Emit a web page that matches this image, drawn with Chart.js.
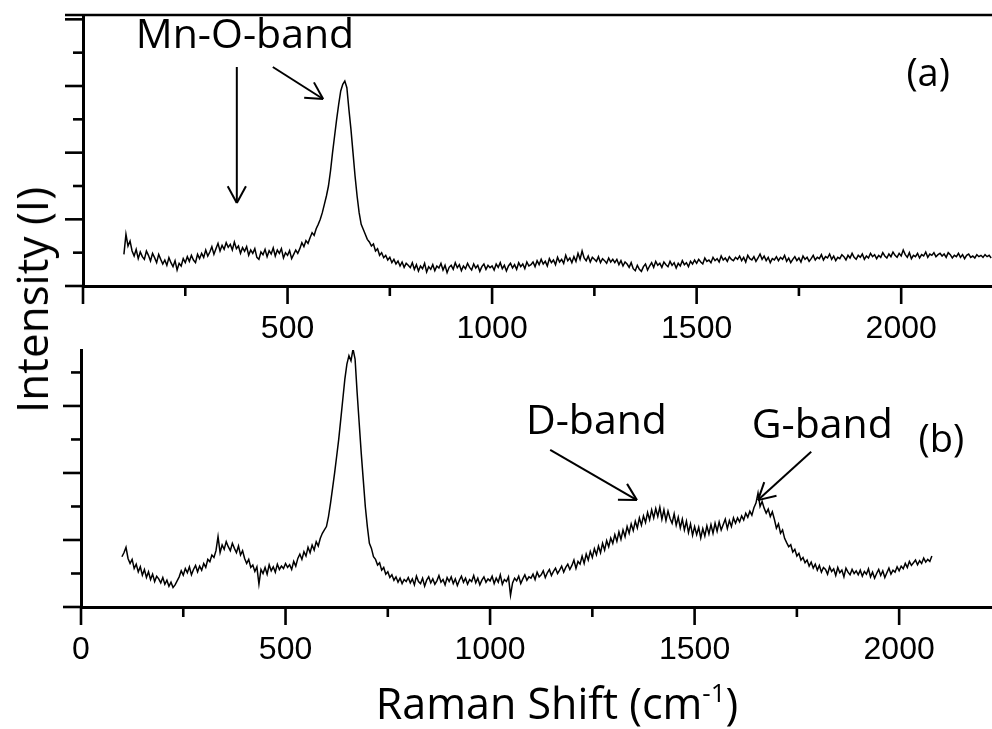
<!DOCTYPE html>
<html>
<head>
<meta charset="utf-8">
<script src="https://cdn.jsdelivr.net/npm/chart.js@4.4.0/dist/chart.umd.min.js"></script>
<style>
  body { margin: 0; background: #fff; width: 992px; height: 729px; overflow: hidden; position: relative; }
  #boxA { position: absolute; left: 0; top: 0; }
  #boxB { position: absolute; left: 0; top: 340px; }
  #ytitle { position: absolute; left: 31px; top: 300px; transform: translate(-50%, -50%) rotate(-90deg);
            font: 44px 'Open Sans'; white-space: nowrap; color: #000; }
  #xtitle { position: absolute; left: 557px; top: 702px; transform: translate(-50%, -50%);
            font: 43px 'Open Sans'; white-space: nowrap; color: #000; }
  #xtitle sup { font-size: 26px; vertical-align: 17px; }
</style>
</head>
<body>
<div id="boxA"><canvas id="chartA" width="992" height="345"></canvas></div>
<div id="boxB"><canvas id="chartB" width="992" height="389"></canvas></div>
<div id="ytitle">Intensity (I)</div>
<div id="xtitle">Raman Shift (cm<sup>-1</sup>)</div>
<script>
// Raman shift grid (cm-1) of both spectra
const shiftStart = 100;
const shiftStep = 5;

// (a) spectrum, 100 .. 2220 cm-1, one row per 100 cm-1
const intensityA = [
  0.95, 1.55, 1.20, 1.35, 1.05, 0.90, 1.10, 0.82, 1.02, 0.88, 0.80, 1.05, 0.92, 0.75, 0.98, 0.85, 0.70, 0.95, 0.80, 0.66,
  0.78, 0.62, 0.85, 0.70, 0.58, 0.76, 0.48, 0.68, 0.60, 0.82, 0.70, 0.88, 0.74, 0.92, 0.78, 0.70, 0.95, 0.82, 0.98, 0.86,
  1.08, 0.90, 1.02, 1.18, 0.95, 1.12, 1.28, 1.05, 1.22, 1.10, 1.30, 1.16, 1.25, 1.08, 1.32, 1.12, 1.20, 0.98, 1.15, 1.04,
  1.18, 0.92, 1.08, 0.98, 1.12, 0.86, 0.80, 1.02, 0.94, 1.10, 0.88, 1.06, 0.96, 1.14, 0.90, 1.08, 0.98, 1.12, 0.84, 1.00,
  0.92, 1.06, 0.82, 0.95, 1.08, 0.98, 1.12, 1.30, 1.18, 1.36, 1.28, 1.45, 1.60, 1.52, 1.72, 1.85, 2.00, 2.20, 2.45, 2.70,
  3.00, 3.45, 4.00, 4.50, 5.00, 5.45, 5.85, 6.05, 6.15, 5.95, 5.30, 4.70, 4.00, 3.30, 2.70, 2.20, 1.85, 1.70, 1.55, 1.40,
  1.32, 1.20, 1.26, 1.05, 1.12, 0.92, 1.00, 0.85, 0.92, 0.78, 0.86, 0.70, 0.80, 0.66, 0.75, 0.60, 0.72, 0.56, 0.68, 0.62,
  0.55, 0.70, 0.50, 0.64, 0.45, 0.60, 0.52, 0.68, 0.42, 0.58, 0.50, 0.64, 0.46, 0.60, 0.54, 0.68, 0.48, 0.62, 0.40, 0.56,
  0.62, 0.50, 0.70, 0.55, 0.64, 0.46, 0.60, 0.52, 0.68, 0.56, 0.48, 0.66, 0.54, 0.62, 0.44, 0.58, 0.66, 0.50, 0.62, 0.55,
  0.60, 0.48, 0.66, 0.56, 0.70, 0.52, 0.62, 0.45, 0.60, 0.68, 0.54, 0.64, 0.50, 0.70, 0.58, 0.66, 0.52, 0.72, 0.60, 0.64,
  0.72, 0.58, 0.76, 0.64, 0.80, 0.66, 0.74, 0.60, 0.82, 0.70, 0.78, 0.64, 0.86, 0.72, 0.80, 0.68, 0.92, 0.76, 0.84, 0.70,
  0.88, 0.74, 0.98, 0.80, 1.05, 0.84, 0.76, 0.90, 0.72, 0.86, 0.80, 0.74, 0.88, 0.70, 0.82, 0.76, 0.68, 0.84, 0.72, 0.80,
  0.70, 0.80, 0.64, 0.76, 0.60, 0.72, 0.66, 0.56, 0.70, 0.52, 0.46, 0.62, 0.50, 0.44, 0.58, 0.66, 0.48, 0.60, 0.70, 0.56,
  0.74, 0.62, 0.68, 0.56, 0.72, 0.64, 0.58, 0.74, 0.62, 0.70, 0.54, 0.68, 0.60, 0.76, 0.64, 0.70, 0.58, 0.74, 0.66, 0.78,
  0.68, 0.80, 0.72, 0.66, 0.84, 0.74, 0.78, 0.70, 0.86, 0.76, 0.82, 0.72, 0.90, 0.78, 0.84, 0.74, 0.88, 0.80, 0.76, 0.86,
  0.80, 0.90, 0.76, 0.86, 0.72, 0.92, 0.82, 0.78, 0.88, 0.74, 0.84, 0.96, 0.80, 0.90, 0.76, 0.86, 0.70, 0.82, 0.78, 0.88,
  0.76, 0.86, 0.80, 0.92, 0.74, 0.84, 0.70, 0.80, 0.88, 0.76, 0.84, 0.72, 0.90, 0.80, 0.86, 0.74, 0.82, 0.92, 0.78, 0.86,
  0.82, 0.94, 0.78, 0.88, 0.84, 0.96, 0.80, 0.90, 0.76, 0.86, 0.82, 0.94, 0.88, 0.78, 0.92, 0.84, 0.98, 0.86, 0.80, 0.92,
  0.86, 0.96, 0.80, 0.90, 0.84, 0.98, 0.88, 0.94, 0.82, 0.92, 0.86, 1.00, 0.90, 0.84, 0.96, 0.88, 1.02, 0.92, 0.86, 0.98,
  0.90, 1.08, 0.94, 0.86, 1.00, 0.82, 0.92, 0.88, 0.98, 0.84, 0.94, 0.90, 1.02, 0.86, 0.96, 0.92, 1.00, 0.88, 0.94, 0.98,
  0.90, 0.96, 0.86, 1.00, 0.94, 0.84, 0.92, 0.88, 0.98, 0.86, 0.94, 0.82, 0.92, 0.96, 0.86, 0.90, 0.84, 0.94, 0.88, 0.92,
  0.86, 0.94, 0.88, 0.92, 0.84
];

// (b) spectrum, 100 .. 2080 cm-1, one row per 100 cm-1
const intensityB = [
  1.50, 1.62, 1.78, 1.45, 1.30, 1.42, 1.15, 1.28, 1.05, 1.20, 0.95, 1.12, 0.88, 1.05, 0.82, 0.98, 0.76, 0.92, 0.84, 0.72,
  0.88, 0.68, 0.80, 0.62, 0.74, 0.58, 0.66, 0.78, 0.90, 1.08, 0.95, 1.15, 1.02, 1.20, 0.96, 1.12, 1.24, 1.05, 1.22, 1.10,
  1.30, 1.18, 1.42, 1.35, 1.55, 1.48, 1.68, 2.10, 1.62, 1.85, 1.72, 1.95, 1.80, 1.68, 1.90, 1.75, 1.62, 1.82, 1.55, 1.68,
  1.45, 1.30, 1.42, 1.18, 1.25, 1.06, 1.20, 0.68, 1.12, 1.00, 1.18, 0.98, 1.26, 1.08, 1.20, 1.04, 1.28, 1.12, 1.22, 1.15,
  1.30, 1.18, 1.26, 1.12, 1.36, 1.22, 1.45, 1.58, 1.42, 1.65, 1.52, 1.78, 1.62, 1.85, 1.70, 1.95, 1.82, 2.05, 2.20, 2.30,
  2.40, 2.70, 3.10, 3.55, 4.00, 4.50, 5.00, 5.60, 6.20, 6.80, 7.25, 7.50, 7.35, 7.70, 7.40, 6.40, 5.50, 4.60, 3.80, 3.00,
  2.40, 1.90, 1.75, 1.50, 1.42, 1.25, 1.32, 1.10, 1.18, 0.98, 1.05, 0.88, 0.96, 0.80, 0.90, 0.74, 0.86, 0.70, 0.82, 0.76,
  0.88, 0.72, 0.84, 0.66, 0.92, 0.76, 0.70, 0.86, 0.62, 0.80, 0.90, 0.72, 0.84, 0.68, 0.78, 0.94, 0.74, 0.82, 0.66, 0.88,
  0.76, 0.90, 0.70, 0.84, 0.64, 0.80, 0.92, 0.74, 0.86, 0.68, 0.82, 0.76, 0.94, 0.72, 0.86, 0.66, 0.80, 0.90, 0.74, 0.84,
  0.78, 0.92, 0.70, 0.86, 0.74, 0.96, 0.68, 0.82, 0.76, 0.90, 0.35, 0.72, 0.86, 0.78, 0.92, 0.70, 0.84, 0.96, 0.80, 0.90,
  0.86, 0.98, 0.82, 1.04, 0.90, 0.96, 1.08, 0.88, 1.02, 1.12, 0.94, 1.06, 1.16, 1.00, 1.10, 1.22, 1.04, 1.18, 1.28, 1.12,
  1.24, 1.40, 1.15, 1.36, 1.28, 1.52, 1.30, 1.58, 1.40, 1.66, 1.48, 1.74, 1.56, 1.82, 1.62, 1.90, 1.70, 1.98, 1.80, 2.06,
  1.90, 2.16, 1.96, 2.24, 2.02, 2.30, 2.10, 2.40, 2.20, 2.48, 2.28, 2.56, 2.36, 2.66, 2.44, 2.72, 2.52, 2.82, 2.60, 2.90,
  2.66, 2.94, 2.70, 2.98, 2.62, 2.90, 2.58, 2.86, 2.64, 2.50, 2.78, 2.44, 2.68, 2.36, 2.62, 2.30, 2.56, 2.22, 2.48, 2.14,
  2.40, 2.16, 2.38, 2.06, 2.34, 2.12, 2.42, 2.18, 2.46, 2.20, 2.50, 2.26, 2.54, 2.30, 2.46, 2.62, 2.34, 2.58, 2.40, 2.66,
  2.50, 2.66, 2.54, 2.72, 2.60, 2.80, 2.68, 2.86, 2.74, 2.96, 3.10, 3.40, 3.00, 3.15, 2.95, 2.80, 2.92, 2.70, 2.84, 2.62,
  2.35, 2.48, 2.20, 2.30, 2.05, 1.92, 1.80, 1.86, 1.64, 1.72, 1.52, 1.60, 1.40, 1.48, 1.32, 1.40, 1.22, 1.34, 1.16, 1.28,
  1.10, 1.24, 1.04, 1.18, 1.12, 0.98, 1.20, 1.06, 1.14, 0.94, 1.18, 1.02, 1.10, 0.90, 1.16, 1.04, 0.96, 1.12, 1.00, 1.08,
  0.96, 1.10, 0.92, 1.06, 0.98, 1.14, 0.90, 1.04, 0.86, 1.00, 1.12, 0.94, 1.08, 0.88, 1.02, 1.16, 0.98, 1.10, 1.04, 1.20,
  1.08, 1.22, 1.14, 1.30, 1.18, 1.36, 1.24, 1.32, 1.40, 1.26, 1.38, 1.30, 1.46, 1.34, 1.42, 1.36, 1.52
];

// axis ranges and tick values
const xRangeA = [0, 2222];
const xRangeB = [0, 2227];
const yRangeA = [0, 8.13];
const yRangeB = [0, 7.67];
const xTickValues = [0, 500, 1000, 1500, 2000];
const xMajor = 500, xMinor = 250;
const yMajor = 2, yMinor = 1;

// labels and arrows, in data units
const notesA = [
  { text: 'Mn-O-band', x: 396, y: 7.5 },
  { text: '(a)', x: 2066, y: 6.33 }
];
const arrowsA = [
  [376, 6.57, 376, 2.49],
  [464, 6.57, 587, 5.61]
];
const notesB = [
  { text: 'D-band', x: 1260, y: 5.5 },
  { text: 'G-band', x: 1812, y: 5.4 },
  { text: '(b)', x: 2103, y: 4.96 }
];
const arrowsB = [
  [1147, 4.69, 1359, 3.19],
  [1785, 4.63, 1655, 3.19]
];

const toPoints = vals => vals.map((v, i) => ({ x: shiftStart + i * shiftStep, y: v }));

function seg(ctx, x1, y1, x2, y2) {
  ctx.beginPath(); ctx.moveTo(x1, y1); ctx.lineTo(x2, y2); ctx.stroke();
}

const framePlugin = {
  id: 'frame',
  afterDraw(chart, args, opts) {
    const { ctx, chartArea: a, scales: { x, y } } = chart;
    ctx.save();
    ctx.strokeStyle = '#000';
    ctx.lineCap = 'butt';
    ctx.lineWidth = 2.6;
    for (let v = y.min; v <= y.max + 1e-6; v += yMinor) {
      const py = y.getPixelForValue(v);
      const len = v % yMajor === 0 ? 18 : 10;
      seg(ctx, a.left - len, py, a.left, py);
    }
    for (let v = x.min; v <= x.max; v += xMinor) {
      const px = x.getPixelForValue(v);
      const len = v % xMajor === 0 ? 18 : 10;
      seg(ctx, px, a.bottom, px, a.bottom + len);
    }
    if (opts.topLine) seg(ctx, a.left - 18, a.top, a.right, a.top);

    ctx.fillStyle = '#000';
    ctx.textAlign = 'center';
    ctx.textBaseline = 'middle';
    (opts.notes || []).forEach(n => {
      ctx.font = (n.text[0] === '(' ? 38 : 41) + 'px "Open Sans"';
      ctx.fillText(n.text, x.getPixelForValue(n.x), y.getPixelForValue(n.y));
    });
    ctx.lineWidth = 2;
    (opts.arrows || []).forEach(([x1, y1, x2, y2]) => {
      const p1 = [x.getPixelForValue(x1), y.getPixelForValue(y1)];
      const p2 = [x.getPixelForValue(x2), y.getPixelForValue(y2)];
      seg(ctx, p1[0], p1[1], p2[0], p2[1]);
      const ang = Math.atan2(p2[1] - p1[1], p2[0] - p1[0]);
      [-0.5, 0.5].forEach(d => {
        seg(ctx, p2[0], p2[1], p2[0] - 19 * Math.cos(ang + d), p2[1] - 19 * Math.sin(ang + d));
      });
    });
    ctx.restore();
  }
};

function makeChart(id, values, xRange, yRange, opts) {
  return new Chart(document.getElementById(id), {
    type: 'line',
    data: {
      datasets: [{
        data: toPoints(values),
        borderColor: '#000',
        borderWidth: 1.5,
        pointRadius: 0,
        tension: 0,
        fill: false
      }]
    },
    options: {
      responsive: false,
      animation: false,
      events: [],
      layout: { padding: { top: opts.top, left: 0, right: 0, bottom: 0 } },
      plugins: {
        legend: { display: false },
        tooltip: { enabled: false },
        frame: opts
      },
      scales: {
        x: {
          type: 'linear',
          min: xRange[0],
          max: xRange[1],
          border: { display: true, width: 3, color: '#000' },
          grid: { display: false, drawTicks: false },
          afterBuildTicks: s => { s.ticks = xTickValues.map(v => ({ value: v })); },
          ticks: {
            padding: 24,
            color: '#000',
            maxRotation: 0,
            autoSkip: false,
            font: { family: "'Liberation Sans', Arial", size: 32 },
            callback: v => (v === 0 && !opts.zeroLabel) ? '' : String(v)
          },
          afterFit: s => { s.height = opts.xHeight; }
        },
        y: {
          type: 'linear',
          min: yRange[0],
          max: yRange[1],
          border: { display: true, width: 3, color: '#000' },
          grid: { display: false, drawTicks: false },
          ticks: { display: false },
          afterFit: s => { s.width = opts.yWidth; }
        }
      }
    },
    plugins: [framePlugin]
  });
}

makeChart('chartA', intensityA, xRangeA, yRangeA,
  { top: 15, xHeight: 59, yWidth: 83, topLine: true, zeroLabel: false, notes: notesA, arrows: arrowsA });
makeChart('chartB', intensityB, xRangeB, yRangeB,
  { top: 10, xHeight: 122, yWidth: 81, topLine: false, zeroLabel: true, notes: notesB, arrows: arrowsB });
</script>
</body>
</html>
